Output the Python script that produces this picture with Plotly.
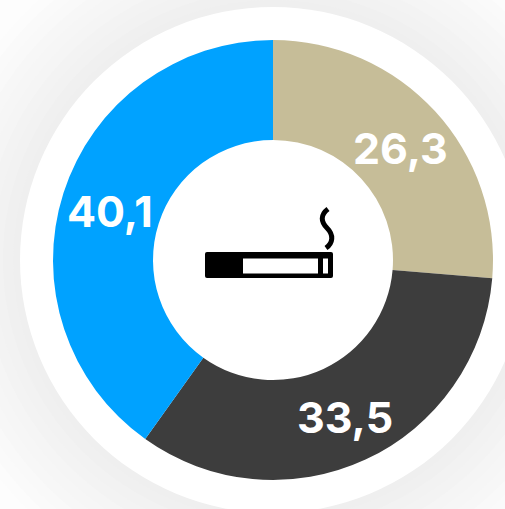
import plotly.graph_objects as go

categories = ["Beige", "Grey", "Blue"]
values = [26.3, 33.5, 40.1]
value_labels = ["26,3", "33,5", "40,1"]
colors = ["#c6bd98", "#3d3d3d", "#00a2ff"]
W, H = 505, 509
label_pos = [(400, 148), (345, 417), (110, 211)]

fig = go.Figure(go.Pie(
    labels=categories, values=values, sort=False, direction="clockwise", rotation=0,
    hole=120/220, textinfo="none", hoverinfo="label+value", showlegend=False,
    marker=dict(colors=colors, line=dict(width=0)),
    domain=dict(x=[53/W, 493/W], y=[1-480/H, 1-40/H]),
))

def px(x): return x/W
def py(y): return 1-y/H

CX, CY = 273, 260
shapes = []
# soft backdrop lightening away from the halo
for r in range(400, 250, -10):
    g = int(round(238 + (r - 255) / 110 * 16))
    g = max(238, min(253, g))
    shapes.append(dict(type="circle", xref="paper", yref="paper", layer="below",
                       x0=px(CX - r), x1=px(CX + r), y0=py(CY + r), y1=py(CY - r),
                       fillcolor=f"rgb({g},{g},{g})", line_width=0))
shapes += [
    dict(type="circle", xref="paper", yref="paper", layer="below",
         x0=px(20), x1=px(526), y0=py(513), y1=py(7), fillcolor="#ffffff", line_width=0),
    dict(type="path", xref="paper", yref="paper", fillcolor="#000000", line_width=0,
         path=f"M {px(207)} {py(252)} L {px(331)} {py(252)} Q {px(333)} {py(252)} {px(333)} {py(254)} "
              f"L {px(333)} {py(276)} Q {px(333)} {py(278)} {px(331)} {py(278)} L {px(207)} {py(278)} "
              f"Q {px(205)} {py(278)} {px(205)} {py(276)} L {px(205)} {py(254)} Q {px(205)} {py(252)} {px(207)} {py(252)} Z"),
    dict(type="rect", xref="paper", yref="paper", x0=px(243), x1=px(318), y0=py(273.5), y1=py(258.5),
         fillcolor="#ffffff", line_width=0),
    dict(type="rect", xref="paper", yref="paper", x0=px(323), x1=px(328), y0=py(273.5), y1=py(258.5),
         fillcolor="#ffffff", line_width=0),
    dict(type="path", xref="paper", yref="paper", line=dict(color="#000000", width=5),
         path=f"M {px(328)} {py(209)} C {px(320)} {py(215)} {px(321)} {py(222)} {px(327)} {py(228)} "
              f"C {px(334)} {py(235)} {px(333)} {py(243)} {px(326)} {py(248)}"),
]

annotations = [
    dict(x=px(x), y=py(y), xref="paper", yref="paper", text=t, showarrow=False,
         xanchor="center", yanchor="middle",
         font=dict(family="Inter", size=43, color="#ffffff", weight=700))
    for t, (x, y) in zip(value_labels, label_pos)
]

fig.update_layout(width=W, height=H, autosize=False, margin=dict(l=0, r=0, t=0, b=0),
                  paper_bgcolor="rgba(0,0,0,0)", plot_bgcolor="rgba(0,0,0,0)",
                  shapes=shapes, annotations=annotations)
fig.write_html("out.html", config=dict(displayModeBar=False),
               post_script="document.body.style.margin='0';document.body.style.overflow='hidden';")
